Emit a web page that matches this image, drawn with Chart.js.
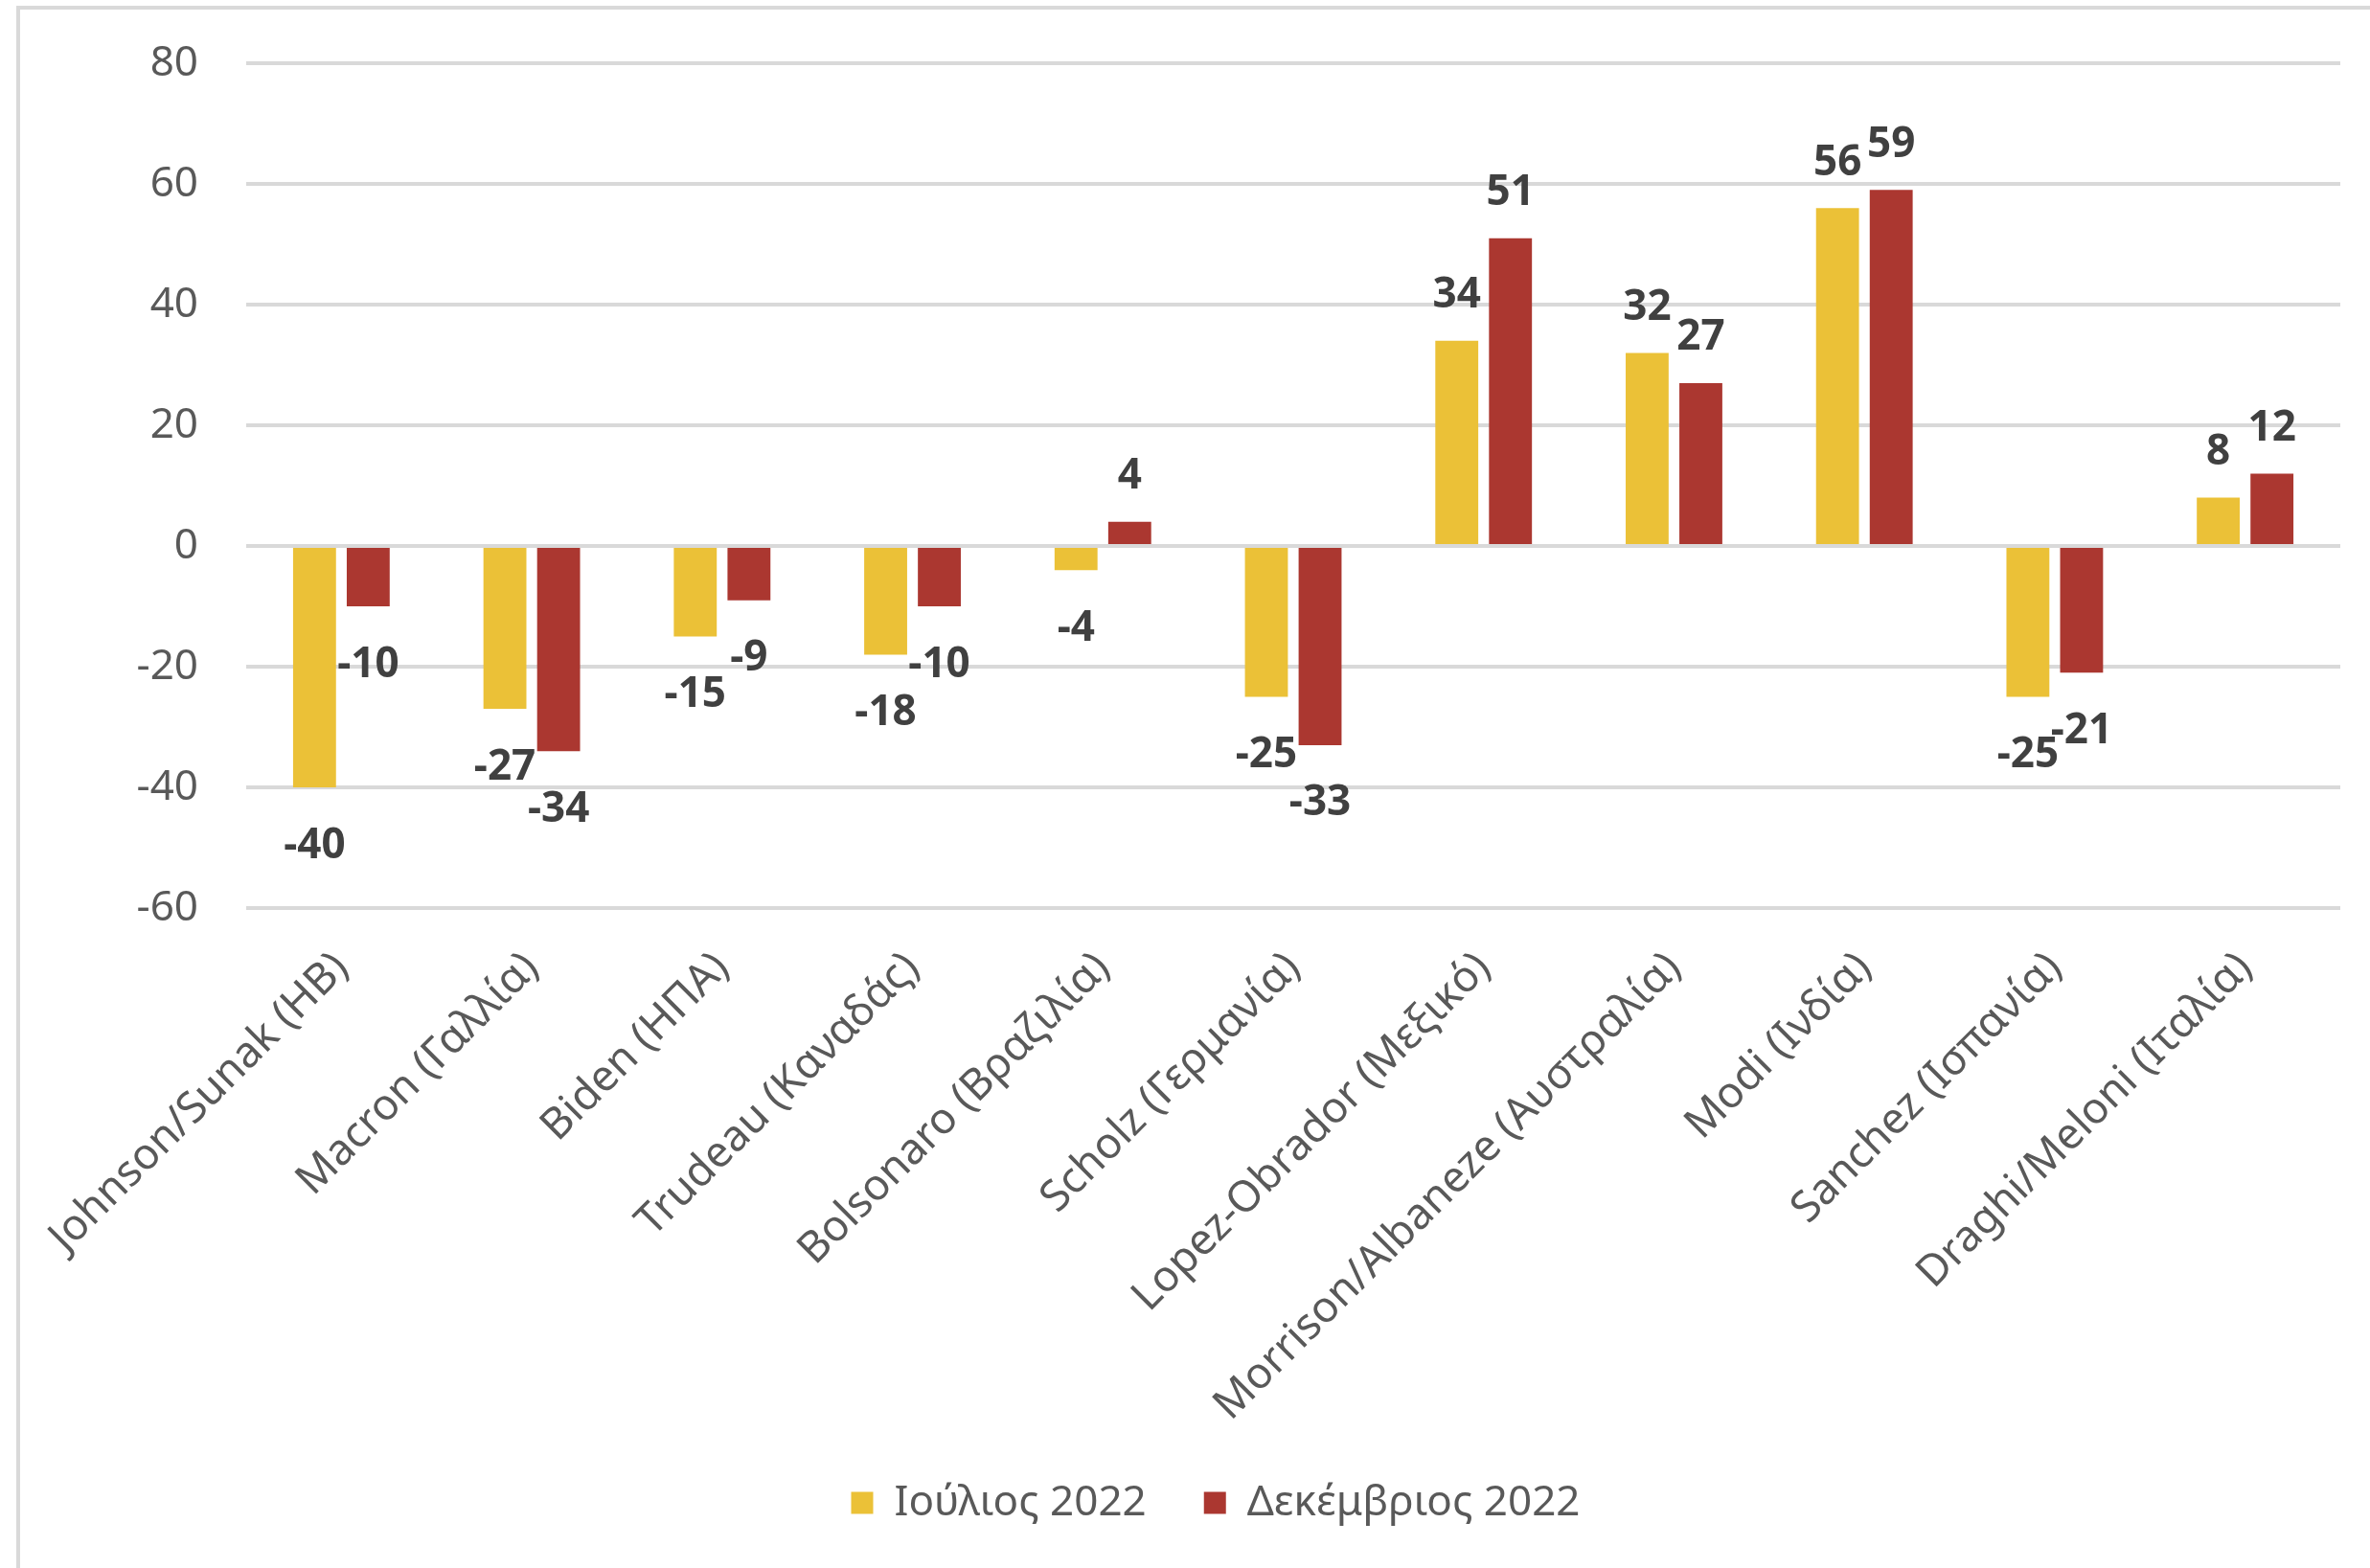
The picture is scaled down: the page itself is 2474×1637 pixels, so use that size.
<!DOCTYPE html>
<html>
<head>
<meta charset="utf-8">
<script src="https://cdn.jsdelivr.net/npm/chart.js@4"></script>
<style>
  html, body { margin: 0; padding: 0; background: #fff; }
  canvas { display: block; }
</style>
</head>
<body>
<canvas id="approvalChart" width="2474" height="1637"></canvas>
<script>
// Δεδομένα
const categories = [
    'Johnson/Sunak (ΗΒ)',
    'Macron (Γαλλία)',
    'Biden (ΗΠΑ)',
    'Trudeau (Καναδάς)',
    'Bolsonaro (Βραζιλία)',
    'Scholz (Γερμανία)',
    'Lopez-Obrador (Μεξικό)',
    'Morrison/Albaneze (Αυστραλία)',
    'Modi (Ινδία)',
    'Sanchez (Ισπανία)',
    'Draghi/Meloni (Ιταλία)'
];
const seriesNames = ['Ιούλιος 2022', 'Δεκέμβριος 2022'];
const july2022 = [-40, -27, -15, -18, -4, -25, 34, 32, 56, -25, 8];
const december2022 = [-10, -34, -9, -10, 4, -33, 51, 27, 59, -21, 12];
const yTicks = [-60, -40, -20, 0, 20, 40, 60, 80];

const FONT = "'Noto Sans', 'Open Sans', sans-serif";
const TEXT_COLOR = '#595959';
const GRID_COLOR = '#d9d9d9';

// Γκρι πλαίσιο (μόνο πάνω και αριστερά, όπως στο πρωτότυπο)
const framePlugin = {
    id: 'frame',
    beforeDraw(chart) {
        const ctx = chart.ctx;
        ctx.save();
        ctx.fillStyle = '#fff';
        ctx.fillRect(0, 0, chart.width, chart.height);
        ctx.strokeStyle = GRID_COLOR;
        ctx.lineWidth = 4;
        ctx.beginPath();
        ctx.moveTo(19, chart.height);
        ctx.lineTo(19, 8);
        ctx.lineTo(chart.width, 8);
        ctx.stroke();
        ctx.restore();
    }
};

// Ετικέτες τιμών πάνω/κάτω από τις μπάρες
const valueLabels = {
    id: 'valueLabels',
    afterDatasetsDraw(chart) {
        const ctx = chart.ctx;
        ctx.save();
        ctx.font = `bold 44px ${FONT}`;
        ctx.fillStyle = '#404040';
        ctx.textAlign = 'center';
        ctx.textBaseline = 'middle';
        chart.data.datasets.forEach((ds, di) => {
            const meta = chart.getDatasetMeta(di);
            meta.data.forEach((bar, i) => {
                const v = ds.data[i];
                const y = v < 0 ? bar.y + 61 : bar.y - 47;
                ctx.fillText(String(v), bar.x, y);
            });
        });
        ctx.restore();
    }
};

const ctx = document.getElementById('approvalChart').getContext('2d');
new Chart(ctx, {
    type: 'bar',
    data: {
        labels: categories,
        datasets: [{
            label: seriesNames[0],
            data: july2022,
            backgroundColor: '#ebc137',
            borderWidth: 0,
            categoryPercentage: 0.564,
            barPercentage: 0.8
        }, {
            label: seriesNames[1],
            data: december2022,
            backgroundColor: '#ab3730',
            borderWidth: 0,
            categoryPercentage: 0.564,
            barPercentage: 0.8
        }]
    },
    options: {
        responsive: false,
        devicePixelRatio: 1,
        animation: false,
        layout: {
            padding: { left: 95, right: 31, top: 66, bottom: 36 }
        },
        plugins: {
            legend: {
                position: 'bottom',
                labels: {
                    boxWidth: 23,
                    boxHeight: 23,
                    padding: 60,
                    color: TEXT_COLOR,
                    font: { family: FONT, size: 44 }
                }
            },
            tooltip: { enabled: false }
        },
        scales: {
            x: {
                grid: { display: false },
                border: { display: false },
                ticks: {
                    color: TEXT_COLOR,
                    font: { family: FONT, size: 45 },
                    maxRotation: 45,
                    minRotation: 45,
                    padding: 28,
                    autoSkip: false
                },
                afterFit(scale) {
                    scale.height = 539;
                }
            },
            y: {
                min: -60,
                max: 80,
                grid: {
                    color: GRID_COLOR,
                    lineWidth: 4,
                    drawTicks: true,
                    tickLength: 50,
                    tickColor: 'rgba(0,0,0,0)'
                },
                border: { display: false },
                ticks: {
                    stepSize: 20,
                    color: TEXT_COLOR,
                    font: { family: FONT, size: 44 },
                    padding: 0
                },
                afterBuildTicks(scale) {
                    scale.ticks = yTicks.map(v => ({ value: v }));
                },
                afterFit(scale) {
                    scale.width = 162;
                }
            }
        }
    },
    plugins: [framePlugin, valueLabels]
});
</script>
</body>
</html>
